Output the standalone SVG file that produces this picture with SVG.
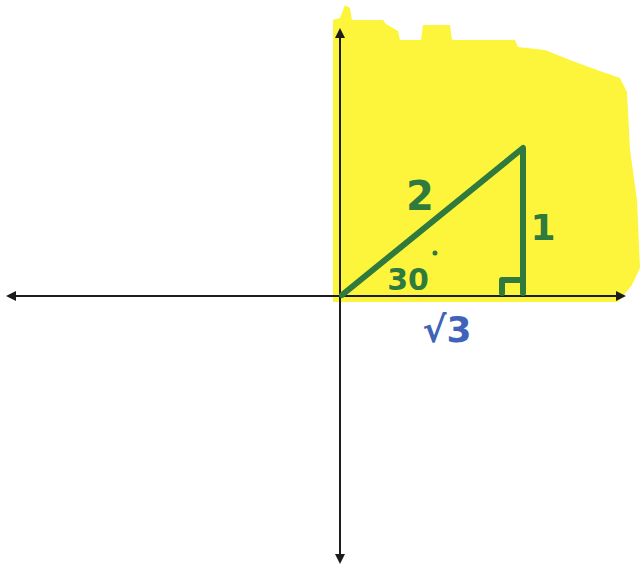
<svg xmlns="http://www.w3.org/2000/svg" width="641" height="568" viewBox="0 0 641 568">
<defs>
<style>
.axis{stroke:#1c1c1c;stroke-width:2;fill:none}
.tri{stroke:#2f7a3c;stroke-width:6;fill:none;stroke-linecap:round;stroke-linejoin:round}
.g{fill:#2f7a3c;font-family:"DejaVu Sans",sans-serif;font-weight:bold}
.b{fill:#3f63b8;font-family:"DejaVu Sans",sans-serif;font-weight:bold}
</style>
<marker id="ah" viewBox="0 0 10 10" refX="6" refY="5" markerWidth="5" markerHeight="5" orient="auto-start-reverse">
<path d="M0,0 L10,5 L0,10 Z" fill="#1c1c1c"/>
</marker>
</defs>
<rect width="641" height="568" fill="#ffffff"/>
<path id="shade" d="M333,302 L333,20 L340,18 L345,5 L350,8 L352,20 L383,20 L386,24 L398,31 L400,40 L421,40 L423,25 L450,25 L452,40 L472,40 L515,40 L518,47 L545,50 L570,60 L597,70 L620,78 L627,92 L630,150 L637,200 L640,268 L632,285 L618,302 Z" fill="#fdf53c"/>
<g id="axes">
<line class="axis" x1="10" y1="296" x2="622" y2="296" marker-start="url(#ah)" marker-end="url(#ah)"/>
<line class="axis" x1="340" y1="32" x2="340" y2="560" marker-start="url(#ah)" marker-end="url(#ah)"/>
</g>
<g id="triangle">
<path class="tri" d="M342,295 L523,148 L523,293"/>
<path class="tri" d="M502,293 L502,280 L521,280" stroke-width="4"/>
<circle cx="435" cy="253" r="2.5" fill="#2f7a3c"/>
</g>
<g id="labels">
<text class="g" x="420" y="210" font-size="40" text-anchor="middle">2</text>
<text class="g" x="543" y="240" font-size="36" text-anchor="middle">1</text>
<text class="g" x="408" y="290" font-size="30" text-anchor="middle">30</text>
<text class="b" x="447" y="342" font-size="36" text-anchor="middle">√3</text>
</g>
</svg>
